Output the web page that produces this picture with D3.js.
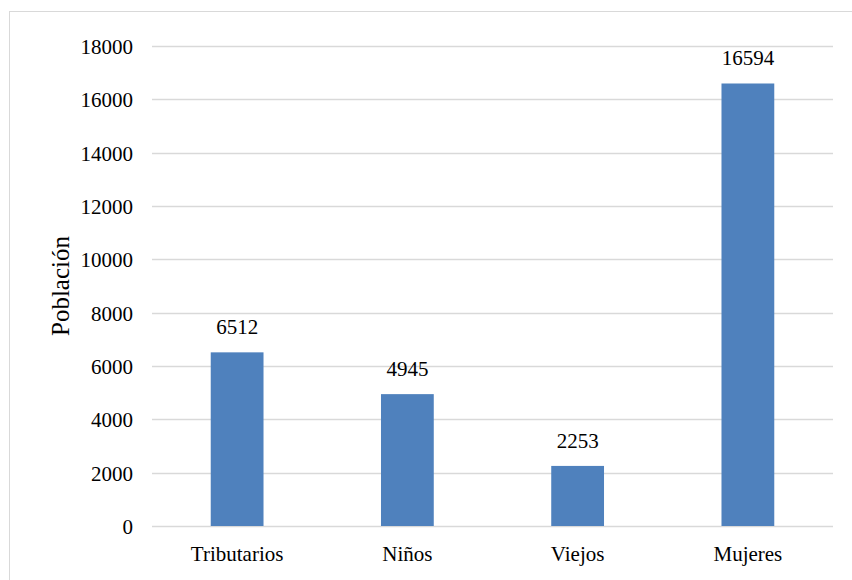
<!DOCTYPE html>
<html>
<head>
<meta charset="utf-8">
<script src="https://cdn.jsdelivr.net/npm/d3@7"></script>
<style>
body { margin: 0; background: #fff; }
text { font-family: "Liberation Serif", "Times New Roman", serif; fill: #000; }
</style>
</head>
<body>
<script>
var width = 852,
    height = 580;

var categories = ["Tributarios", "Niños", "Viejos", "Mujeres"];
var values = [6512, 4945, 2253, 16594];
var yTicks = [0, 2000, 4000, 6000, 8000, 10000, 12000, 14000, 16000, 18000];

var margin = {top: 46, right: 19, bottom: 54, left: 152};

var svg = d3.select("body").append("svg")
    .attr("width", width)
    .attr("height", height);

// chart frame (right and bottom edges fall outside the picture)
svg.append("rect")
    .attr("x", 9.5).attr("y", 11.5)
    .attr("width", 860).attr("height", 600)
    .attr("fill", "none")
    .attr("stroke", "#d9d9d9");

var x = d3.scaleBand()
    .domain(categories)
    .range([margin.left, width - margin.right])
    .paddingInner(0.69)
    .paddingOuter(0.345);

var y = d3.scaleLinear()
    .domain([0, 18000])
    .range([height - margin.bottom, margin.top]);

// gridlines
svg.append("g")
    .selectAll("line")
    .data(yTicks).enter().append("line")
    .attr("x1", margin.left)
    .attr("x2", width - margin.right)
    .attr("y1", function(d) { return Math.round(y(d)) + 0.5; })
    .attr("y2", function(d) { return Math.round(y(d)) + 0.5; })
    .attr("stroke", "#d9d9d9")
    .attr("stroke-width", 1.5);

// y axis labels
var yAxis = svg.append("g")
    .attr("transform", "translate(" + (margin.left - 19) + ",0)")
    .call(d3.axisLeft(y).tickValues(yTicks).tickSize(0).tickPadding(0).tickFormat(d3.format("d")));
yAxis.select(".domain").remove();
yAxis.selectAll("text").style("font-size", "21px").attr("dy", "0.35em");

// bars
svg.append("g")
    .selectAll("rect")
    .data(values).enter().append("rect")
    .attr("x", function(d, i) { return x(categories[i]); })
    .attr("width", x.bandwidth())
    .attr("y", function(d) { return y(d); })
    .attr("height", function(d) { return y(0) - y(d); })
    .attr("fill", "#4f81bd");

// value labels
svg.append("g")
    .selectAll("text")
    .data(values).enter().append("text")
    .attr("x", function(d, i) { return x(categories[i]) + x.bandwidth() / 2; })
    .attr("y", function(d) { return y(d) - 18; })
    .attr("text-anchor", "middle")
    .style("font-size", "21px")
    .text(function(d) { return d; });

// x axis labels
var xAxis = svg.append("g")
    .attr("transform", "translate(0," + (height - margin.bottom) + ")")
    .call(d3.axisBottom(x).tickSize(0).tickPadding(20));
xAxis.select(".domain").remove();
xAxis.selectAll("text").style("font-size", "21px");

// y title
svg.append("text")
    .attr("transform", "translate(69," + ((margin.top + height - margin.bottom) / 2) + ") rotate(-90)")
    .attr("text-anchor", "middle")
    .style("font-size", "25px")
    .text("Población");
</script>
</body>
</html>
